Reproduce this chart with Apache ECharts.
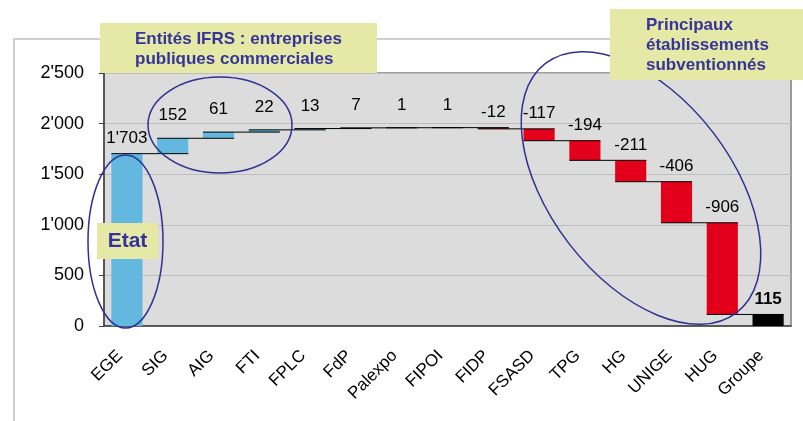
<!DOCTYPE html>
<html>
<head>
<meta charset="utf-8">
<script src="https://cdn.jsdelivr.net/npm/echarts@6/dist/echarts.min.js"></script>
<style>
html, body { margin: 0; padding: 0; background: #fff; }
#chart { width: 803px; height: 421px; }
</style>
</head>
<body>
<div id="chart"></div>
<script>
// waterfall : Etat -> entites -> groupe
var categories = ['EGE', 'SIG', 'AIG', 'FTI', 'FPLC', 'FdP', 'Palexpo', 'FIPOI', 'FIDP', 'FSASD', 'TPG', 'HG', 'UNIGE', 'HUG', 'Groupe'];
var deltas = [1703, 152, 61, 22, 13, 7, 1, 1, -12, -117, -194, -211, -406, -906];
var groupTotal = 115;
var yMin = 0, yMax = 2500, yStep = 500;

function fmt(n) {
    return String(n).replace(/\B(?=(\d{3})+(?!\d))/g, "'");
}

// bases / hauteurs de la cascade
var bases = [], heights = [], ends = [];
var run = 0;
deltas.forEach(function (d) {
    var next = run + d;
    bases.push(Math.min(run, next));
    heights.push(Math.abs(d));
    ends.push(next);
    run = next;
});
bases.push(0);
heights.push(groupTotal);
var shown = deltas.concat([groupTotal]);

function barColor(i) {
    if (i === categories.length - 1) return '#000000';
    if (shown[i] < 0) return '#e2001a';
    return '#62b8de';
}

var FONT = 'Liberation Sans, Arial, sans-serif';
var blue = '#2e3192';
var boxFill = '#e6e8a6';
var textBlue = '#34349c';

var chart = echarts.init(document.getElementById('chart'));
chart.setOption({
    animation: false,
    textStyle: { fontFamily: FONT },
    grid: {
        left: 104, right: 12, top: 73, bottom: 95,
        show: true,
        backgroundColor: '#dcdcdc',
        borderColor: '#7f7f7f',
        borderWidth: 1.5
    },
    xAxis: {
        type: 'category',
        data: categories,
        axisLine: { lineStyle: { color: '#404040', width: 1.5 } },
        axisTick: { length: 5, lineStyle: { color: '#404040' } },
        axisLabel: { interval: 0, rotate: 45, margin: 20, padding: [0, 10, 0, 0], fontSize: 17, color: '#000', fontFamily: FONT }
    },
    yAxis: {
        type: 'value',
        min: yMin, max: yMax, interval: yStep,
        axisLine: { show: true, lineStyle: { color: '#404040', width: 1.5 } },
        axisTick: { show: true, length: 5, lineStyle: { color: '#404040' } },
        splitLine: { lineStyle: { color: '#bdbdbd', width: 1 } },
        axisLabel: { fontSize: 18, color: '#000', margin: 20, fontFamily: FONT, formatter: function (v) { return fmt(v); } }
    },
    series: [{
        type: 'bar',
        stack: 'wf',
        barWidth: '68%',
        silent: true,
        itemStyle: { color: 'transparent' },
        data: bases
    }, {
        type: 'bar',
        stack: 'wf',
        barWidth: '68%',
        data: heights.map(function (h, i) {
            var tight = (i === 0 || shown[i] < 0 || i === categories.length - 1);
            return {
                value: h,
                itemStyle: { color: barColor(i) },
                label: {
                    distance: tight ? 7 : 14,
                    fontWeight: i === categories.length - 1 ? 'bold' : 'normal'
                }
            };
        }),
        label: {
            show: true,
            position: 'top',
            fontSize: 17,
            color: '#000',
            fontFamily: FONT,
            formatter: function (p) { return fmt(shown[p.dataIndex]); }
        }
    }, {
        // traits de liaison
        type: 'custom',
        z: 5,
        encode: { x: 0, y: 1 },
        data: ends.map(function (v, i) { return [i, v]; }),
        renderItem: function (params, api) {
            var i = api.value(0), v = api.value(1);
            var p0 = api.coord([i, v]);
            var p1 = api.coord([i + 1, v]);
            var hw = api.size([1, 0])[0] * 0.34;
            return {
                type: 'line',
                shape: { x1: p0[0] - hw, y1: p0[1], x2: p1[0] + hw, y2: p1[1] },
                style: { stroke: '#000', lineWidth: 1 }
            };
        }
    }],
    graphic: [
        { type: 'polyline', z: 1, shape: { points: [[14, 421], [14, 39], [803, 39]] }, style: { fill: 'none', stroke: '#cfcfcf', lineWidth: 2 } },
        { type: 'ellipse', z: 100, shape: { cx: 125.5, cy: 241.5, rx: 37.5, ry: 86.5 }, style: { fill: 'none', stroke: blue, lineWidth: 1.5 } },
        { type: 'ellipse', z: 100, shape: { cx: 220, cy: 125, rx: 72, ry: 48 }, style: { fill: 'none', stroke: blue, lineWidth: 1.5 } },
        { type: 'ellipse', z: 100, x: 641, y: 188, rotation: -52.5 * Math.PI / 180, shape: { cx: 0, cy: 0, rx: 157, ry: 91 }, style: { fill: 'none', stroke: blue, lineWidth: 1.5 } },
        { type: 'rect', z: 110, shape: { x: 100, y: 23, width: 277, height: 50 }, style: { fill: boxFill } },
        { type: 'text', z: 111, x: 135, y: 29, style: { text: 'Entités IFRS : entreprises\npubliques commerciales', fontSize: 17, fontWeight: 'bold', fontFamily: FONT, fill: textBlue, lineHeight: 20, align: 'left', verticalAlign: 'top' } },
        { type: 'rect', z: 110, shape: { x: 610, y: 9, width: 193, height: 71 }, style: { fill: boxFill } },
        { type: 'text', z: 111, x: 646, y: 15, style: { text: 'Principaux\nétablissements\nsubventionnés', fontSize: 17, fontWeight: 'bold', fontFamily: FONT, fill: textBlue, lineHeight: 20, align: 'left', verticalAlign: 'top' } },
        { type: 'rect', z: 110, shape: { x: 97, y: 223, width: 61, height: 36 }, style: { fill: boxFill } },
        { type: 'text', z: 111, x: 127.5, y: 241, style: { text: 'Etat', fontSize: 21, fontWeight: 'bold', fontFamily: FONT, fill: textBlue, align: 'center', verticalAlign: 'middle' } }
    ]
});
</script>
</body>
</html>
